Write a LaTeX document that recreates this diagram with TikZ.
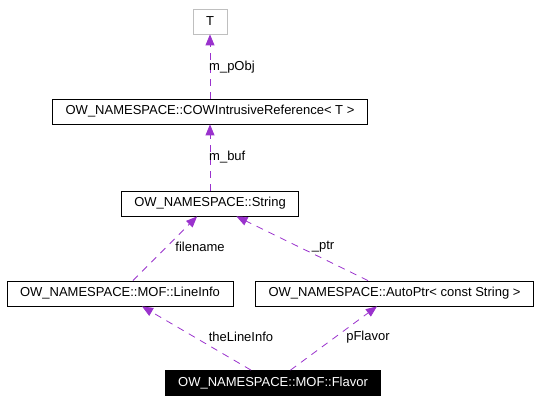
\documentclass[tikz,border=0pt]{standalone}
\usepackage{fontspec}
\setmainfont{Liberation Sans}
\usetikzlibrary{arrows.meta}
\definecolor{usecol}{RGB}{154,50,205}

\begin{document}
\begin{tikzpicture}[x=1pt,y=-1pt,
  cls/.style={draw,rectangle,minimum height=25pt,inner xsep=13pt,inner ysep=0pt,line width=0.8pt,font=\fontsize{13}{15}\selectfont},
  rel/.style={draw=usecol,dash pattern=on 7pt off 6pt,line width=0.8pt,-{Triangle[length=11pt,width=9pt,fill=usecol]}},
  lbl/.style={inner sep=0pt,font=\fontsize{13}{15}\selectfont}]
\useasboundingbox (0,0) rectangle (544,403);
\node[cls,draw=gray!50] (t) at (210,21.5) {T};
\node[cls] (cow) at (210,111.5) {OW\_NAMESPACE::COWIntrusiveReference< T >};
\node[cls] (str) at (210,203.5) {OW\_NAMESPACE::String};
\node[cls] (lineinfo) at (120,293.5) {OW\_NAMESPACE::MOF::LineInfo};
\node[cls] (autoptr) at (394.5,293.5) {OW\_NAMESPACE::AutoPtr< const String >};
\node[cls,fill=black,text=white] (flavor) at (273,383) {OW\_NAMESPACE::MOF::Flavor};
% usage relations
\draw[rel] (cow) -- (t);
\draw[rel] (str) -- (cow);
\draw[rel] (lineinfo) -- (str);
\draw[rel] (autoptr) -- (str);
\draw[rel] (flavor) -- (lineinfo);
\draw[rel] (flavor) -- (autoptr);
\node[lbl,anchor=west] (l1) at (209,67) {m\_pObj};
\node[lbl,anchor=west] (l2) at (209,157) {m\_buf};
\node[lbl] (l3) at (200,247) {filename};
\node[lbl] (l4) at (323,247) {\_ptr};
\node[lbl] (l5) at (241,337) {theLineInfo};
\node[lbl] (l6) at (368,337) {pFlavor};
\end{tikzpicture}
\end{document}
